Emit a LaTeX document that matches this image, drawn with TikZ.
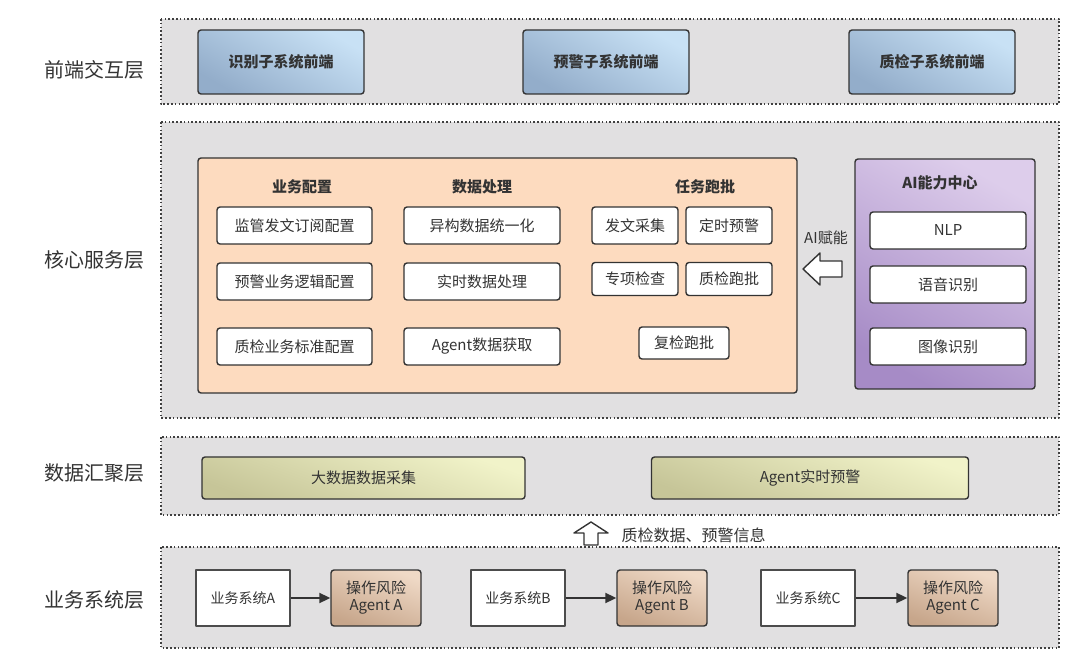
\documentclass[tikz,border=0pt]{standalone}
\usepackage{fontspec}
\setmainfont{Noto Sans CJK SC}
\usetikzlibrary{arrows.meta}
\definecolor{laybg}{HTML}{E1E0E1}
\definecolor{bluehi}{HTML}{C8E1F5}
\definecolor{bluelo}{HTML}{93ADCA}
\definecolor{peach}{HTML}{FDDBBF}
\definecolor{purphi}{HTML}{DDCDEB}
\definecolor{purplo}{HTML}{A68BC6}
\definecolor{oliveHi}{HTML}{F1F3C9}
\definecolor{oliveLo}{HTML}{C6C598}
\definecolor{agenthi}{HTML}{EFD9C6}
\definecolor{agentlo}{HTML}{C7A68B}
\definecolor{ink}{HTML}{333333}
\begin{document}
\begin{tikzpicture}[x=1pt,y=-1pt,line join=round,>={Triangle[length=11pt,width=10pt]},
  layer/.style={draw=black!75,fill=laybg,line width=1.6pt,dash pattern=on 1.6pt off 2.2pt},
  laylbl/.style={text=ink,font=\fontsize{20}{23}\selectfont},
  box/.style={draw=black!80,line width=1.4pt,rounded corners=3pt,inner sep=0pt,text=ink},
  front/.style={box,top color=bluehi,bottom color=bluelo,shading angle=-30,font=\bfseries\fontsize{15}{18}\selectfont},
  item/.style={box,fill=white,font=\fontsize{15}{18}\selectfont},
  head/.style={text=ink,font=\bfseries\fontsize{15}{18}\selectfont},
  datbox/.style={box,top color=oliveHi,bottom color=oliveLo,shading angle=-20,font=\fontsize{15}{18}\selectfont},
  sysbox/.style={draw=black!70,line width=1.2pt,fill=white,inner sep=0pt,text=ink,minimum width=94pt,minimum height=56pt,font=\fontsize{14}{17}\selectfont},
  agent/.style={box,top color=agenthi,bottom color=agentlo,shading angle=-20,minimum width=90pt,minimum height=56pt,align=center,font=\fontsize{15}{17}\selectfont},
  hollow/.style={draw=black!80,fill=white,line width=1.4pt}]
\useasboundingbox (0,0) rectangle (1080,668);
% layers
\draw[layer] (161,19) rectangle (1059,104);
\draw[layer] (161,122) rectangle (1059,418);
\draw[layer] (161,437) rectangle (1059,515);
\draw[layer] (161,547) rectangle (1059,648);
\node[laylbl] (L1) at (95,70) {前端交互层};
\node[laylbl] (L2) at (95,260) {核心服务层};
\node[laylbl] (L3) at (95,473) {数据汇聚层};
\node[laylbl] (L4) at (95,600) {业务系统层};
% front end
\node[front,minimum width=166pt,minimum height=64pt] (fe1) at (281,62) {识别子系统前端};
\node[front,minimum width=166pt,minimum height=64pt] (fe2) at (606,62) {预警子系统前端};
\node[front,minimum width=166pt,minimum height=64pt] (fe3) at (932,62) {质检子系统前端};
% core services
\node[box,fill=peach,minimum width=599pt,minimum height=235pt] (svc) at (497.5,275.5) {};
\node[head] (h1) at (302,187) {业务配置};
\node[head] (h2) at (482,187) {数据处理};
\node[head] (h3) at (705,187) {任务跑批};
\node[item,minimum width=155pt,minimum height=37pt] (c11) at (294.5,225.5) {监管发文订阅配置};
\node[item,minimum width=155pt,minimum height=37pt] (c12) at (294.5,281.5) {预警业务逻辑配置};
\node[item,minimum width=155pt,minimum height=37pt] (c13) at (294.5,346.5) {质检业务标准配置};
\node[item,minimum width=156pt,minimum height=37pt] (c21) at (482,225.5) {异构数据统一化};
\node[item,minimum width=156pt,minimum height=37pt] (c22) at (482,281.5) {实时数据处理};
\node[item,minimum width=156pt,minimum height=37pt] (c23) at (482,346.5) {Agent数据获取};
\node[item,minimum width=86pt,minimum height=37pt] (t1) at (635,225.5) {发文采集};
\node[item,minimum width=86pt,minimum height=37pt] (t2) at (729,225.5) {定时预警};
\node[item,minimum width=86pt,minimum height=33pt] (t3) at (635,279) {专项检查};
\node[item,minimum width=86pt,minimum height=33pt] (t4) at (729,279) {质检跑批};
\node[item,minimum width=90pt,minimum height=32pt] (t5) at (684,343) {复检跑批};
% AI centre
\node[box,top color=purphi,bottom color=purplo,shading angle=-30,draw=black!80,minimum width=180pt,minimum height=230pt] (ai) at (945,274) {};
\node[head] (h4) at (940,183) {AI能力中心};
\node[item,minimum width=156pt,minimum height=37pt] (a1) at (948,230.5) {NLP};
\node[item,minimum width=156pt,minimum height=37pt] (a2) at (948,284.5) {语音识别};
\node[item,minimum width=156pt,minimum height=37pt] (a3) at (948,346.5) {图像识别};
\node[text=ink,font=\fontsize{15}{18}\selectfont] (enable) at (826,238) {AI赋能};
\draw[hollow] (803,269) -- (820,253) -- (820,261) -- (842,261) -- (842,277) -- (820,277) -- (820,285) -- cycle;
% data layer
\node[datbox,minimum width=323pt,minimum height=42pt] (d1) at (363.5,478) {大数据数据采集};
\node[datbox,minimum width=317pt,minimum height=42pt] (d2) at (810,478) {Agent实时预警};
\draw[hollow] (591,522) -- (608,533) -- (598,533) -- (598,545) -- (584,545) -- (584,533) -- (574,533) -- cycle;
\node[text=ink,anchor=west,font=\fontsize{16}{19}\selectfont] (flow) at (618,535) {质检数据、预警信息};
% business systems
\node[sysbox] (sA) at (243,598) {业务系统A};
\node[agent] (gA) at (376,598) {操作风险\\Agent A};
\node[sysbox] (sB) at (518,598) {业务系统B};
\node[agent] (gB) at (662,598) {操作风险\\Agent B};
\node[sysbox] (sC) at (808,598) {业务系统C};
\node[agent] (gC) at (953,598) {操作风险\\Agent C};
\foreach \s in {A,B,C}
  \draw[->,line width=2pt,black!80] (s\s) -- (g\s);
\end{tikzpicture}
\end{document}
